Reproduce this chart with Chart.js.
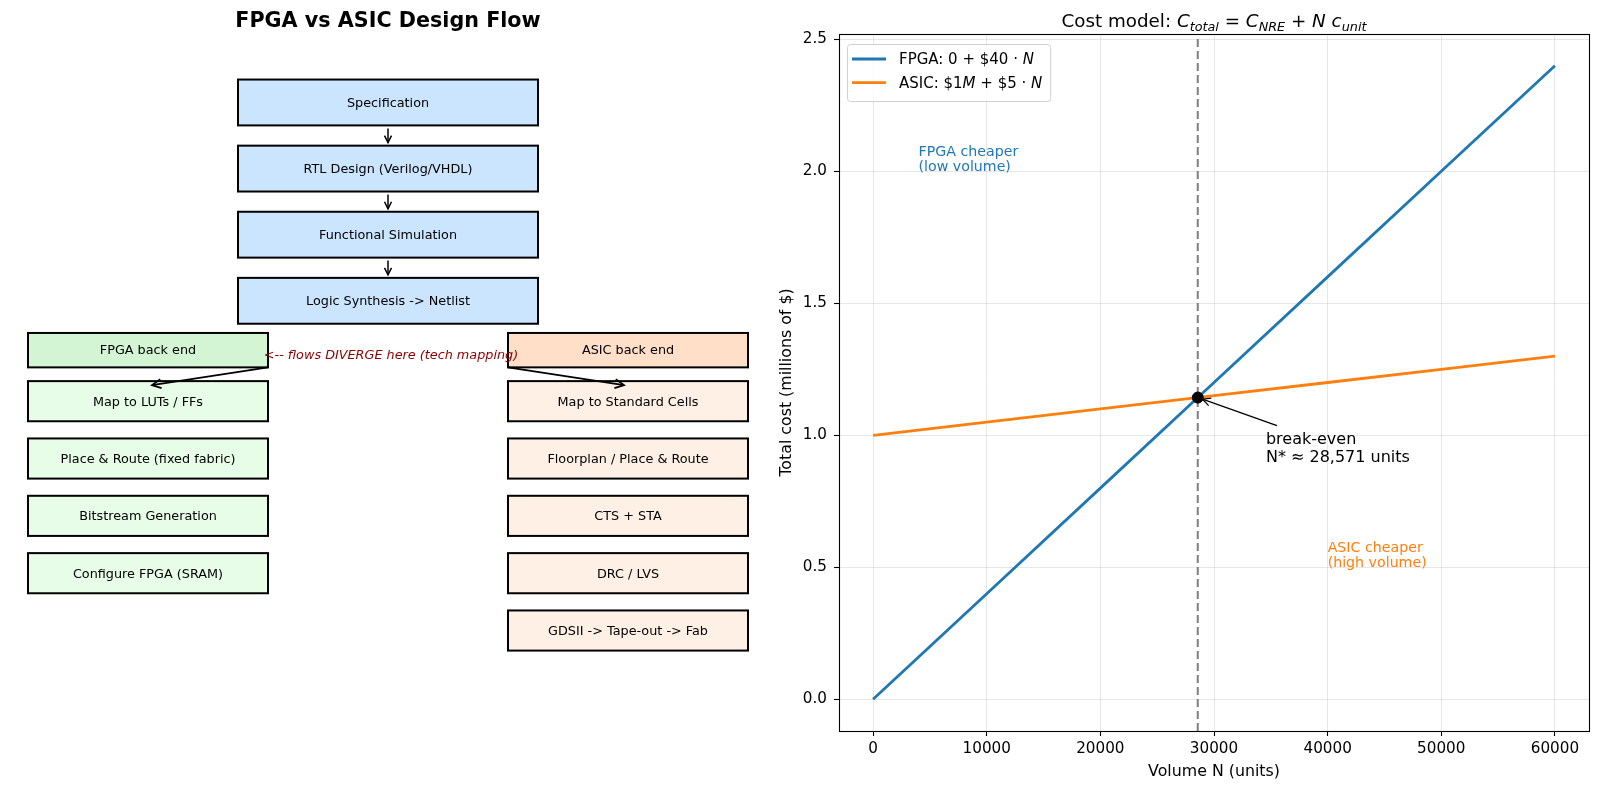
<!DOCTYPE html>
<html>
<head>
<meta charset="utf-8">
<script src="https://cdn.jsdelivr.net/npm/chart.js@4.4.1/dist/chart.umd.min.js"></script>
<style>
  html, body { margin: 0; padding: 0; background: #fff; }
  #wrap { position: relative; width: 1600px; height: 791px; }
  .panel { position: absolute; top: 0; height: 791px; }
  #left { left: 0; width: 770px; }
  #right { left: 770px; width: 830px; }
</style>
</head>
<body>
<div id="wrap">
  <div class="panel" id="left"><canvas id="flowChart"></canvas></div>
  <div class="panel" id="right"><canvas id="costChart"></canvas></div>
</div>
<script>
// flow steps
const commonSteps = ['Specification', 'RTL Design (Verilog/VHDL)', 'Functional Simulation', 'Logic Synthesis -> Netlist'];
const fpgaSteps = ['FPGA back end', 'Map to LUTs / FFs', 'Place & Route (fixed fabric)', 'Bitstream Generation', 'Configure FPGA (SRAM)'];
const asicSteps = ['ASIC back end', 'Map to Standard Cells', 'Floorplan / Place & Route', 'CTS + STA', 'DRC / LVS', 'GDSII -> Tape-out -> Fab'];
const divergeNote = '<-- flows DIVERGE here (tech mapping)';

// cost model (millions of $)
const volumes = [0, 10000, 20000, 30000, 40000, 50000, 60000];
const fpgaCost = [0, 0.4, 0.8, 1.2, 1.6, 2.0, 2.4];
const asicCost = [1.0, 1.05, 1.1, 1.15, 1.2, 1.25, 1.3];
const breakEvenN = 28571;
const breakEvenCost = 1.143;
const xTicks = [0, 10000, 20000, 30000, 40000, 50000, 60000];
const yTicks = [0, 0.5, 1.0, 1.5, 2.0, 2.5];
const xRange = [-3000, 63000];
const yRange = [-0.12, 2.52];

const FONT = "'DejaVu Sans', sans-serif";
Chart.defaults.font.family = FONT;
Chart.defaults.color = '#000';

function arrow(ctx, x1, y1, x2, y2, head, half) {
  ctx.beginPath();
  ctx.moveTo(x1, y1);
  ctx.lineTo(x2, y2);
  ctx.stroke();
  const a = Math.atan2(y2 - y1, x2 - x1);
  const bx = x2 - head * Math.cos(a), by = y2 - head * Math.sin(a);
  ctx.beginPath();
  ctx.moveTo(bx + half * Math.sin(a), by - half * Math.cos(a));
  ctx.lineTo(x2, y2);
  ctx.lineTo(bx - half * Math.sin(a), by + half * Math.cos(a));
  ctx.stroke();
}

// parts: [text, style] with style '', 'i' or 'sub'
function richWidth(ctx, parts, size) {
  let w = 0;
  for (const [t, s] of parts) {
    ctx.font = (s ? 'italic ' : '') + (s === 'sub' ? size * 0.7 : size) + 'px ' + FONT;
    w += ctx.measureText(t).width;
  }
  return w;
}
function drawRich(ctx, parts, x, y, size) {
  let cx = x;
  for (const [t, s] of parts) {
    ctx.font = (s ? 'italic ' : '') + (s === 'sub' ? size * 0.7 : size) + 'px ' + FONT;
    ctx.fillText(t, cx, s === 'sub' ? y + size * 0.22 : y);
    cx += ctx.measureText(t).width;
  }
}
function labelParts(label) {
  return label.split(/([MN])(?=\s|$)/).map((t, i) => [t, i % 2 ? 'i' : '']);
}

// ---------- left: design flow ----------
const flowDraw = {
  id: 'flowDraw',
  afterDraw(chart) {
    const { ctx, chartArea: a, scales: { x, y } } = chart;
    ctx.save();

    ctx.fillStyle = '#000';
    ctx.font = 'bold 20.7px ' + FONT;
    ctx.textAlign = 'center';
    ctx.textBaseline = 'alphabetic';
    ctx.fillText('FPGA vs ASIC Design Flow', (a.left + a.right) / 2, 27);

    const rect = (cx, cy, w, h) => ({
      l: x.getPixelForValue(cx - w / 2), r: x.getPixelForValue(cx + w / 2),
      t: y.getPixelForValue(cy + h / 2), b: y.getPixelForValue(cy - h / 2)
    });
    const box = (cx, cy, w, h, fill, label) => {
      const r = rect(cx, cy, w, h);
      ctx.fillStyle = fill;
      ctx.fillRect(r.l, r.t, r.r - r.l, r.b - r.t);
      ctx.lineWidth = 2;
      ctx.strokeStyle = '#000';
      ctx.strokeRect(r.l, r.t, r.r - r.l, r.b - r.t);
      ctx.fillStyle = '#000';
      ctx.font = '12.8px ' + FONT;
      ctx.textAlign = 'center';
      ctx.textBaseline = 'middle';
      ctx.fillText(label, (r.l + r.r) / 2, (r.t + r.b) / 2 + 1);
      return r;
    };

    // common trunk
    const trunk = commonSteps.map((s, i) => box(6, 10.98 - i * 1.153, 5, 0.8, '#cce5ff', s));
    ctx.lineWidth = 1.5;
    ctx.strokeStyle = '#000';
    for (let i = 0; i < trunk.length - 1; i++) {
      const cx = (trunk[i].l + trunk[i].r) / 2;
      arrow(ctx, cx, trunk[i].b + 3, cx, trunk[i + 1].t - 3, 7, 3.5);
    }

    // back ends
    const sides = [[fpgaSteps, 2, '#d4f5d4', '#e8fde8', 1], [asicSteps, 10, '#ffdfc8', '#fff0e6', -1]];
    const heads = [];
    for (const [steps, cx, headFill, stepFill, dir] of sides) {
      const h = box(cx, 6.66, 4, 0.6, headFill, steps[0]);
      const first = steps.slice(1).map((s, i) => box(cx, 5.77 - i, 4, 0.7, stepFill, s))[0];
      heads.push([h, first, dir]);
    }
    ctx.lineWidth = 1.8;
    ctx.strokeStyle = '#000';
    for (const [h, first, dir] of heads) {
      const sx = dir > 0 ? h.r : h.l;
      const tx = (first.l + first.r) / 2 + dir * 4;
      arrow(ctx, sx, h.b, tx, first.t + 4, 9, 4.5);
    }

    ctx.fillStyle = '#8b0000';
    ctx.font = 'italic 12.8px ' + FONT;
    ctx.textAlign = 'center';
    ctx.textBaseline = 'alphabetic';
    ctx.fillText(divergeNote, x.getPixelForValue(6.05), y.getPixelForValue(6.51));
    ctx.restore();
  }
};

new Chart(document.getElementById('flowChart'), {
  type: 'scatter',
  data: { datasets: [] },
  options: {
    responsive: true,
    maintainAspectRatio: false,
    animation: false,
    events: [],
    layout: { padding: { left: 28, right: 22, top: 44, bottom: 59 } },
    plugins: { legend: { display: false }, tooltip: { enabled: false } },
    scales: {
      x: { type: 'linear', min: 0, max: 12, display: false },
      y: { type: 'linear', min: 0, max: 12, display: false }
    }
  },
  plugins: [flowDraw]
});

// ---------- right: cost model ----------
const costDecor = {
  id: 'costDecor',
  afterDraw(chart) {
    const { ctx, chartArea: a, scales: { x, y } } = chart;
    ctx.save();

    // frame
    ctx.strokeStyle = '#000';
    ctx.lineWidth = 1.1;
    ctx.strokeRect(Math.round(a.left) + 0.5, Math.round(a.top) + 0.5,
      Math.round(a.right - a.left), Math.round(a.bottom - a.top));

    // title
    const title = [['Cost model: ', ''], ['C', 'i'], ['total', 'sub'], [' = ', ''], ['C', 'i'], ['NRE', 'sub'],
      [' + ', ''], ['N', 'i'], [' ', ''], ['c', 'i'], ['unit', 'sub']];
    const ts = 18.3;
    ctx.fillStyle = '#000';
    ctx.textAlign = 'left';
    ctx.textBaseline = 'alphabetic';
    const tw = richWidth(ctx, title, ts);
    drawRich(ctx, title, (a.left + a.right) / 2 - tw / 2, 27, ts);

    // region notes
    ctx.font = '14.2px ' + FONT;
    ctx.fillStyle = '#1f77b4';
    ctx.fillText('FPGA cheaper', x.getPixelForValue(4000), y.getPixelForValue(2.0) - 15.5);
    ctx.fillText('(low volume)', x.getPixelForValue(4000), y.getPixelForValue(2.0));
    ctx.fillStyle = '#ff7f0e';
    ctx.fillText('ASIC cheaper', x.getPixelForValue(40000), y.getPixelForValue(0.5) - 15.5);
    ctx.fillText('(high volume)', x.getPixelForValue(40000), y.getPixelForValue(0.5));

    // break-even annotation
    const px = x.getPixelForValue(breakEvenN), py = y.getPixelForValue(breakEvenCost);
    const tx = x.getPixelForValue(breakEvenN + 6000), by = y.getPixelForValue(0.9);
    ctx.fillStyle = '#000';
    ctx.font = '16px ' + FONT;
    ctx.fillText('break-even', tx, by - 18);
    ctx.fillText('N* \u2248 ' + breakEvenN.toLocaleString('en-US') + ' units', tx, by);
    const sx = tx + 11, sy = by - 36;
    const d = Math.hypot(sx - px, sy - py);
    ctx.strokeStyle = '#000';
    ctx.lineWidth = 1.3;
    arrow(ctx, sx, sy, px + (sx - px) / d * 5, py + (sy - py) / d * 5, 8, 4);

    // legend
    const items = chart.data.datasets.filter(ds => ds.inLegend);
    const lx = a.left + 8, ly = a.top + 10;
    let maxW = 0;
    for (const ds of items) maxW = Math.max(maxW, richWidth(ctx, labelParts(ds.label), 15));
    const bw = 5 + 34 + 13 + maxW + 8, bh = 57;
    ctx.fillStyle = 'rgba(255,255,255,0.8)';
    ctx.strokeStyle = '#d0d0d0';
    ctx.lineWidth = 1;
    ctx.beginPath();
    ctx.roundRect(lx + 0.5, ly + 0.5, bw, bh, 3);
    ctx.fill();
    ctx.stroke();
    items.forEach((ds, i) => {
      const ry = ly + 15 + i * 23.7;
      ctx.strokeStyle = ds.borderColor;
      ctx.lineWidth = ds.borderWidth;
      ctx.beginPath();
      ctx.moveTo(lx + 5, ry);
      ctx.lineTo(lx + 39, ry);
      ctx.stroke();
      ctx.fillStyle = '#000';
      ctx.textBaseline = 'middle';
      drawRich(ctx, labelParts(ds.label), lx + 52, ry + 1, 15);
    });
    ctx.restore();
  }
};

const toPoints = (xs, ys) => xs.map((v, i) => ({ x: v, y: ys[i] }));

new Chart(document.getElementById('costChart'), {
  type: 'scatter',
  data: {
    datasets: [
      {
        label: 'FPGA: 0 + $40 \u00b7 N',
        data: toPoints(volumes, fpgaCost),
        showLine: true,
        borderColor: '#1f77b4',
        borderWidth: 2.8,
        pointRadius: 0,
        order: 3,
        inLegend: true
      },
      {
        label: 'ASIC: $1M + $5 \u00b7 N',
        data: toPoints(volumes, asicCost),
        showLine: true,
        borderColor: '#ff7f0e',
        borderWidth: 2.8,
        pointRadius: 0,
        order: 2,
        inLegend: true
      },
      {
        label: 'N*',
        data: [{ x: breakEvenN, y: yRange[0] }, { x: breakEvenN, y: yRange[1] }],
        showLine: true,
        borderColor: '#808080',
        borderWidth: 2,
        borderDash: [8, 4],
        pointRadius: 0,
        order: 1
      },
      {
        label: 'break-even',
        data: [{ x: breakEvenN, y: breakEvenCost }],
        pointRadius: 5.5,
        backgroundColor: '#000',
        borderColor: '#000',
        order: 0
      }
    ]
  },
  options: {
    responsive: true,
    maintainAspectRatio: false,
    animation: false,
    events: [],
    layout: { padding: { left: 0, right: 11, top: 34, bottom: 0 } },
    plugins: { legend: { display: false }, tooltip: { enabled: false } },
    scales: {
      x: {
        type: 'linear',
        min: xRange[0],
        max: xRange[1],
        afterBuildTicks: s => { s.ticks = xTicks.map(v => ({ value: v })); },
        afterFit: s => { s.height = 60; },
        ticks: { color: '#000', font: { size: 15.2 }, padding: 4, maxRotation: 0, callback: v => String(v) },
        grid: { color: 'rgba(176,176,176,0.3)', lineWidth: 1, tickColor: '#000', tickLength: 5, tickWidth: 1.1 },
        border: { display: false },
        title: { display: true, text: 'Volume N (units)', color: '#000', font: { size: 15.8 }, padding: { top: 0, bottom: 10 } }
      },
      y: {
        type: 'linear',
        min: yRange[0],
        max: yRange[1],
        afterBuildTicks: s => { s.ticks = yTicks.map(v => ({ value: v })); },
        afterFit: s => { s.width = 69; },
        ticks: { color: '#000', font: { size: 15.2 }, padding: 7, callback: v => v.toFixed(1) },
        grid: { color: 'rgba(176,176,176,0.3)', lineWidth: 1, tickColor: '#000', tickLength: 5, tickWidth: 1.1 },
        border: { display: false },
        title: { display: true, text: 'Total cost (millions of $)', color: '#000', font: { size: 15.8 }, padding: { top: 7, bottom: 0 } }
      }
    }
  },
  plugins: [costDecor]
});
</script>
</body>
</html>
